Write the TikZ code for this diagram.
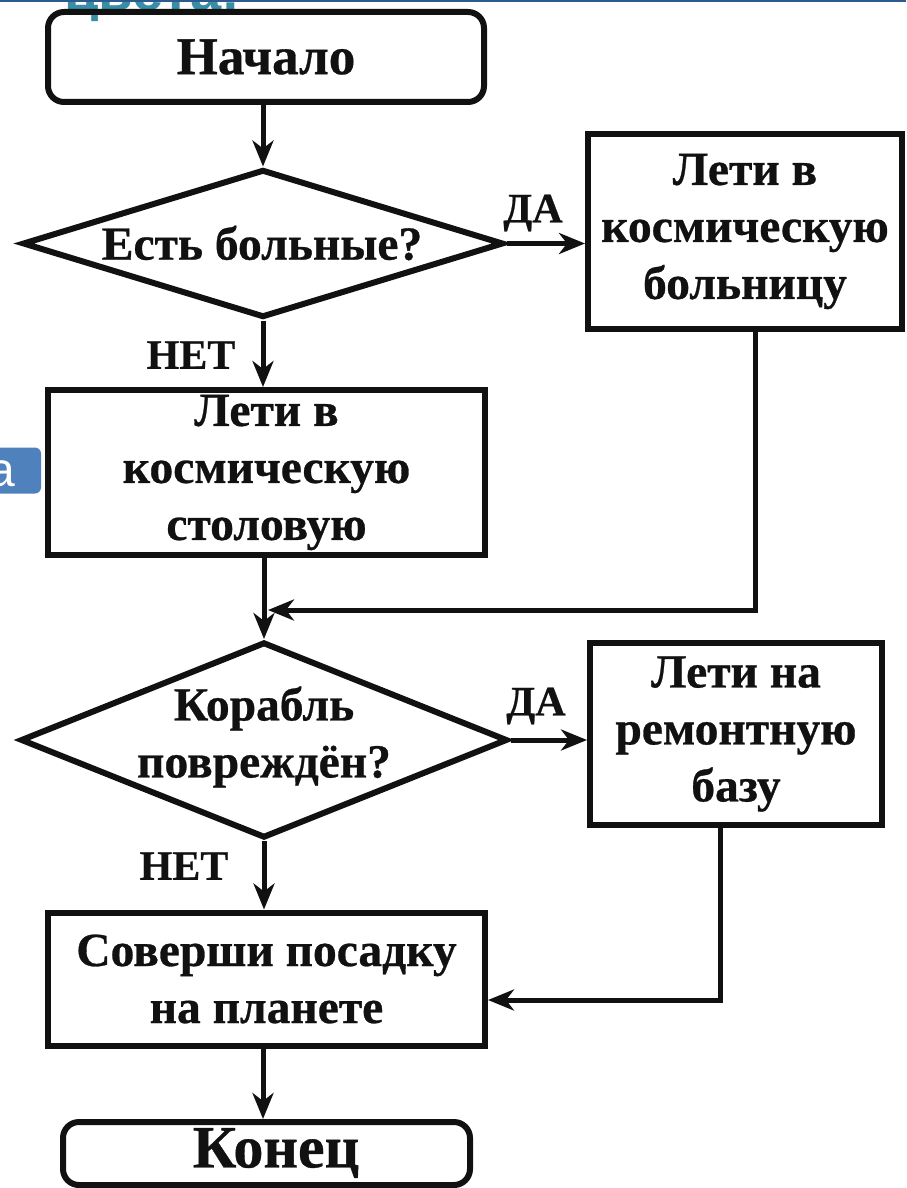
\documentclass[tikz,border=0pt]{standalone}
\usepackage{fontspec}
\setmainfont{Liberation Serif}
\newfontfamily\heavy[FakeBold=0.6]{Liberation Serif Bold}
\newfontfamily\sansfam{Liberation Sans}
\usetikzlibrary{shapes.geometric,arrows.meta}
\definecolor{topblue}{HTML}{2E5B8D}
\definecolor{headteal}{HTML}{3A8DA6}
\definecolor{tabblue}{HTML}{4F81BD}
\definecolor{ink}{HTML}{111111}
\begin{document}
\begin{tikzpicture}[x=1pt,y=-1pt,
  txt/.style={font=\heavy\fontsize{47.5}{57}\selectfont, text=ink, align=center, inner sep=0pt},
  box/.style={txt, draw=ink, line width=6pt, rectangle},
  term/.style={box, rounded corners=16pt},
  dec/.style={draw=ink, diamond, line width=6pt, inner sep=0pt},
  arr/.style={draw=ink, line width=5pt, -{Stealth[length=26pt,width=21pt,inset=8pt]}},
  lbl/.style={font=\heavy\fontsize{42}{46}\selectfont, text=ink, inner sep=0pt}
]
\useasboundingbox (0,0) rectangle (906,1188);
\fill[white] (0,0) rectangle (906,1188);

% top strip
\node[text=headteal, font=\sansfam\bfseries\fontsize{56}{60}\selectfont, anchor=base west, inner sep=0pt] (hdr) at (64,11) {цвета:};
\draw[topblue, line width=2pt] (0,1) -- (906,1);

% left tab
\node[fill=tabblue, rounded corners=6pt, minimum width=60, minimum height=46, inner sep=0pt] (tab) at (11,470.5) {};
\node[text=white, font=\sansfam\fontsize{48}{50}\selectfont, anchor=base east, inner sep=0pt] (taba) at (15,486) {a};

% nodes
\node[term, minimum width=436, minimum height=90, font=\heavy\fontsize{53}{57}\selectfont] (start) at (266,57) {Начало};
\node[dec, minimum width=481, minimum height=148] (d1) at (263,243.5) {};
\node[txt] (d1t) at (262,243) {Есть больные?};
\node[box, minimum width=314, minimum height=195] (b1) at (745,231.5) {Лети в\\космическую\\больницу};
\node[box, minimum width=437, minimum height=165] (b2) at (266.5,472.5) {Лети в\\космическую\\столовую};
\node[dec, minimum width=487, minimum height=196] (d2) at (264,740) {};
\node[txt] (d2t) at (264,737) {Корабль\\повреждён?};
\node[box, minimum width=292, minimum height=182] (b3) at (736,734) {Лети на\\ремонтную\\базу};
\node[box, minimum width=437, minimum height=133] (b4) at (266.5,979) {Соверши посадку\\на планете};
\node[term, minimum width=407, minimum height=63] (end) at (266.5,1153.5) {};
\node[txt, font=\heavy\fontsize{60}{64}\selectfont] (endt) at (276,1153) {Конец};

% labels
\node[lbl] (yes1) at (533,213) {ДА};
\node[lbl] (no1) at (191,355) {НЕТ};
\node[lbl] (yes2) at (536,706) {ДА};
\node[lbl] (no2) at (184,866) {НЕТ};

\coordinate (j1) at (268,610);

% connectors
\draw[arr] (start.south -| d1.north) -- (d1.north);
\draw[arr] (d1.east) -- (d1.east -| b1.west);
\draw[arr] (d1.south) -- (d1.south |- b2.north);
\draw[arr] (b2.south -| d2.north) -- (d2.north);
\draw[arr] ([xshift=10pt]b1.south) |- (j1);
\draw[arr] (d2.east) -- (d2.east -| b3.west);
\draw[arr] (d2.south) -- (d2.south |- b4.north);
\draw[arr] ([xshift=-16pt]b3.south) |- ([yshift=-21pt]b4.east);
\draw[arr] (b4.south -| d1.north) -- (end.north -| d1.north);
\end{tikzpicture}
\end{document}
